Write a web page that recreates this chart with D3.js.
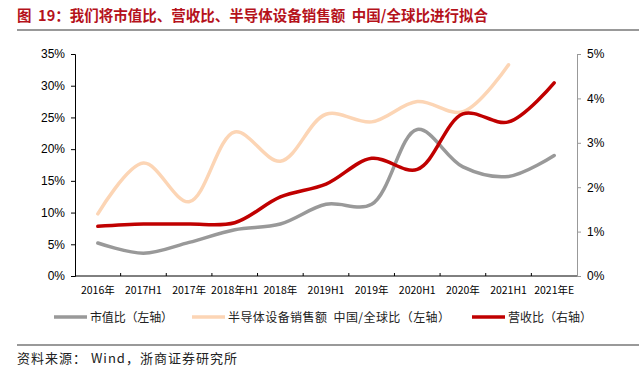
<!DOCTYPE html>
<html>
<head>
<meta charset="utf-8">
<script src="https://cdn.jsdelivr.net/npm/d3@7"></script>
<style>
  body { margin: 0; background: #fff; }
  svg { display: block; font-family: "Liberation Sans", Arial, sans-serif; }
</style>
</head>
<body>
<div id="chart"></div>
<script>
// categories on the x axis
const categories = ["2016年", "2017H1", "2017年", "2018年H1", "2018年", "2019H1",
  "2019年", "2020H1", "2020年", "2021H1", "2021年E"];

// series values (percent)
const marketCapRatio = [5.2, 3.6, 5.3, 7.3, 8.2, 11.3, 11.3, 23.1, 17.2, 15.7, 19.0];
const equipSalesRatio = [9.8, 17.8, 11.7, 22.7, 18.1, 25.5, 24.3, 27.5, 25.9, 33.3];
const revenueRatio = [1.12, 1.17, 1.17, 1.2, 1.78, 2.07, 2.65, 2.4, 3.65, 3.47, 4.35];

// tick labels
const leftTicks = [0, 5, 10, 15, 20, 25, 30, 35];
const rightTicks = [0, 1, 2, 3, 4, 5];

const width = 639;
const height = 379;
const plot = { left: 75, right: 577, top: 54, bottom: 276 };

const svg = d3.select("#chart").append("svg")
  .attr("width", width)
  .attr("height", height);

// title and rules
svg.append("text")
  .attr("x", 17).attr("y", 21)
  .attr("fill", "#b5121b")
  .style("white-space", "pre")
  .style("font-family", "'Noto Sans CJK SC', sans-serif")
  .style("font-size", "14.5px")
  .style("font-weight", "bold")
  .text("图  19：我们将市值比、营收比、半导体设备销售额  中国/全球比进行拟合");

svg.append("line")
  .attr("x1", 17).attr("x2", width).attr("y1", 30).attr("y2", 30)
  .attr("stroke", "#999").attr("stroke-width", 2);

svg.append("line")
  .attr("x1", 17).attr("x2", width).attr("y1", 345).attr("y2", 345)
  .attr("stroke", "#999").attr("stroke-width", 2);

svg.append("text")
  .attr("x", 17).attr("y", 363)
  .attr("fill", "#222")
  .attr("textLength", 220)
  .attr("lengthAdjust", "spacing")
  .style("white-space", "pre")
  .style("font-family", "'Noto Sans CJK SC', serif")
  .style("font-size", "13px")
  .text("资料来源： Wind，浙商证券研究所");

// scales
const x = d3.scaleBand()
  .domain(categories)
  .range([plot.left, plot.right]);

const yLeft = d3.scaleLinear()
  .domain([0, 35])
  .range([plot.bottom, plot.top]);

const yRight = d3.scaleLinear()
  .domain([0, 5])
  .range([plot.bottom, plot.top]);

// left axis
const leftAxis = svg.append("g")
  .attr("transform", `translate(${plot.left},0)`)
  .call(d3.axisLeft(yLeft).tickValues(leftTicks).tickSize(4).tickPadding(6)
    .tickFormat((d) => d + "%"));
leftAxis.select(".domain").attr("stroke", "#000");
leftAxis.selectAll("text").style("font-size", "12px").attr("fill", "#000");

// right axis
const rightAxis = svg.append("g")
  .attr("transform", `translate(${plot.right},0)`)
  .call(d3.axisRight(yRight).tickValues(rightTicks).tickSize(4).tickPadding(6)
    .tickFormat((d) => d + "%"));
rightAxis.select(".domain").attr("stroke", "#999");
rightAxis.selectAll("line").attr("stroke", "#999");
rightAxis.selectAll("text").style("font-size", "12px").attr("fill", "#000");

// bottom axis, ticks at band boundaries pointing up
const bottom = svg.append("g");
bottom.append("line")
  .attr("x1", plot.left).attr("x2", plot.right)
  .attr("y1", plot.bottom).attr("y2", plot.bottom)
  .attr("stroke", "#000");
bottom.selectAll(".tick")
  .data(categories.slice(1))
  .enter()
  .append("line")
  .attr("x1", (d) => x(d)).attr("x2", (d) => x(d))
  .attr("y1", plot.bottom).attr("y2", plot.bottom - 3)
  .attr("stroke", "#000");
bottom.selectAll(".lbl")
  .data(categories)
  .enter()
  .append("text")
  .attr("x", (d) => x(d) + x.bandwidth() / 2)
  .attr("y", 294)
  .attr("text-anchor", "middle")
  .style("font-size", "10.5px")
  .style("font-family", "'Noto Sans CJK SC', 'Liberation Sans', sans-serif")
  .attr("fill", "#000")
  .text((d) => d);

// lines
const cx = (i) => x(categories[i]) + x.bandwidth() / 2;

const series = [
  { values: marketCapRatio, y: yLeft, color: "#999999" },
  { values: equipSalesRatio, y: yLeft, color: "#fcd5b5" },
  { values: revenueRatio, y: yRight, color: "#c00000" }
];

series.forEach((s) => {
  const line = d3.line()
    .x((d, i) => cx(i))
    .y((d) => s.y(d))
    .curve(d3.curveCatmullRom.alpha(0.5));
  svg.append("path")
    .datum(s.values)
    .attr("d", line)
    .attr("fill", "none")
    .attr("stroke", s.color)
    .attr("stroke-width", 3.5)
    .attr("stroke-linecap", "round");
});

// legend
const legendItems = [
  { label: "市值比（左轴）", color: "#999999", x: 54, w: 83 },
  { label: "半导体设备销售额  中国/全球比（左轴）", color: "#fcd5b5", x: 192, w: 222 },
  { label: "营收比（右轴）", color: "#c00000", x: 472, w: 84 }
];

const legend = svg.append("g");
legendItems.forEach((d) => {
  legend.append("line")
    .attr("x1", d.x).attr("x2", d.x + 33)
    .attr("y1", 317).attr("y2", 317)
    .attr("stroke", d.color)
    .attr("stroke-width", 3.5);
  legend.append("text")
    .attr("x", d.x + 36).attr("y", 321.5)
    .attr("textLength", d.w)
    .attr("lengthAdjust", "spacing")
    .style("white-space", "pre")
    .style("font-family", "'Noto Sans CJK SC', sans-serif")
    .style("font-size", "12px")
    .attr("fill", "#222")
    .text(d.label);
});
</script>
</body>
</html>
